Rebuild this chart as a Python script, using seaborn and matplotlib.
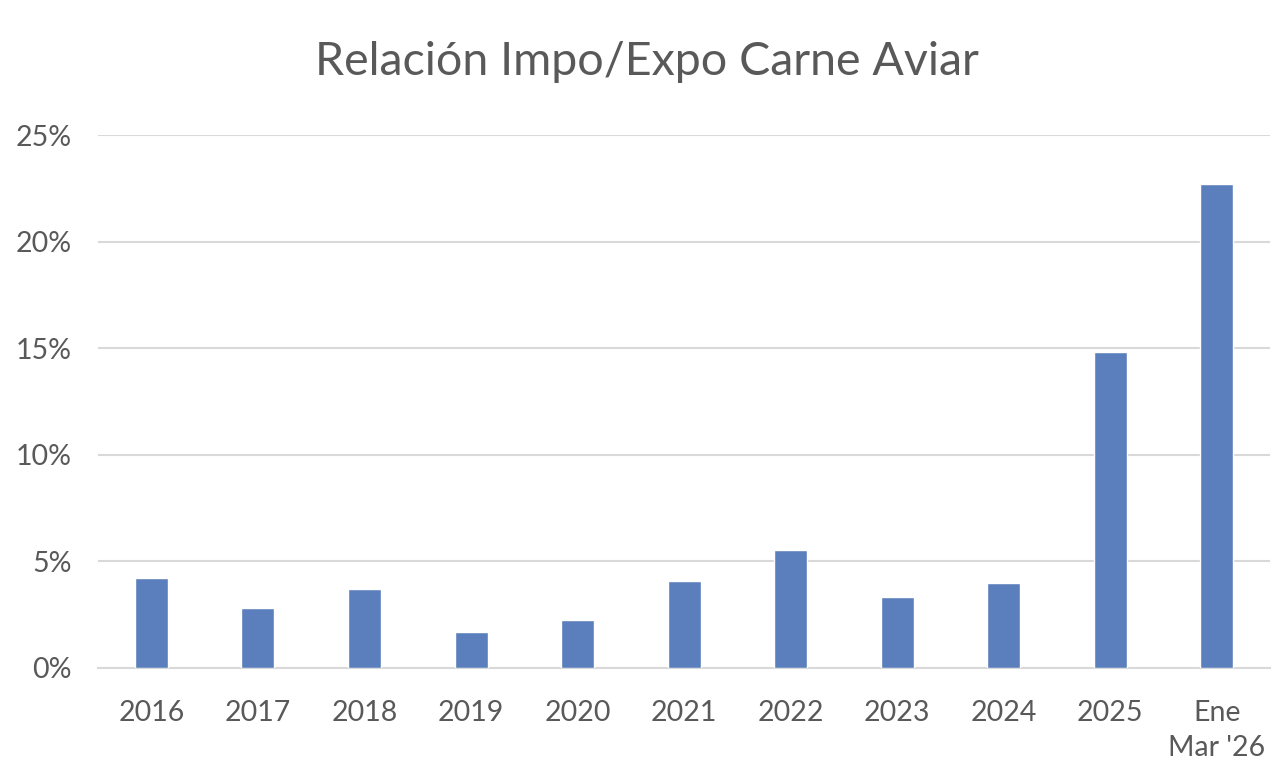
import matplotlib
matplotlib.use("Agg")
import matplotlib.pyplot as plt
from matplotlib.ticker import FuncFormatter, MultipleLocator
import seaborn as sns
import pandas as pd

# Data (percent)
periods = ["2016", "2017", "2018", "2019", "2020", "2021", "2022",
           "2023", "2024", "2025", "Ene\nMar '26"]
ratio_pct = [4.2, 2.8, 3.7, 1.7, 2.25, 4.08, 5.52, 3.3, 3.97, 14.8, 22.7]

title = "Relación Impo/Expo Carne Aviar"
bar_color = "#5B7FBC"
text_color = "#595959"
grid_color = "#D9D9D9"

df = pd.DataFrame({"periodo": periods, "ratio": ratio_pct})

sns.set_theme(style="white")
plt.rcParams["font.family"] = ["Lato", "DejaVu Sans"]

fig = plt.figure(figsize=(12.74, 7.81), dpi=100)
ax = fig.add_axes([0.077, 0.145, 0.92, 0.682])

sns.barplot(data=df, x="periodo", y="ratio", color=bar_color,
            width=0.31, saturation=1, ax=ax, zorder=3)

ax.set_ylim(0, 25)
ax.set_xlim(-0.5, len(periods) - 0.5)
ax.yaxis.set_major_locator(MultipleLocator(5))
ax.yaxis.set_major_formatter(FuncFormatter(lambda v, _: f"{v:.0f}%"))
ax.grid(axis="y", color=grid_color, linewidth=1.5, zorder=0)
ax.grid(axis="x", visible=False)

for side in ["top", "right", "left"]:
    ax.spines[side].set_visible(False)
ax.spines["bottom"].set_color(grid_color)
ax.spines["bottom"].set_linewidth(1.5)

ax.tick_params(axis="both", length=0, labelsize=20.5, colors=text_color)
ax.tick_params(axis="y", pad=19)
ax.tick_params(axis="x", pad=23)
for lbl in ax.get_xticklabels():
    lbl.set_linespacing(1.45)
ax.set_xlabel("")
ax.set_ylabel("")

fig.text(0.508, 0.92, title, ha="center", va="center",
         fontsize=33.5, color=text_color)

fig.savefig("out.png", dpi=100, facecolor="white")
